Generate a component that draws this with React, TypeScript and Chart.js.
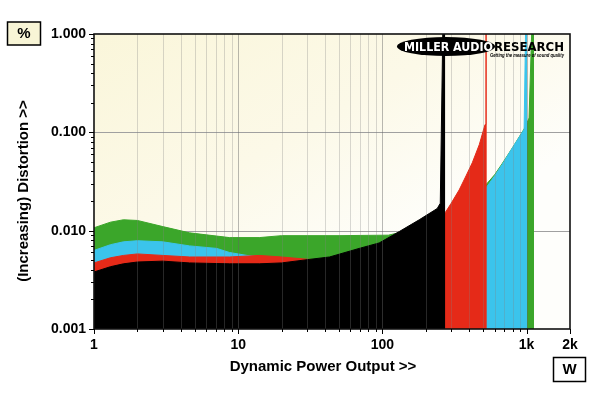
import React, { useEffect, useRef } from 'react';
import { Chart, registerables } from 'chart.js';
Chart.register(...registerables);

// ---- data (power in W, distortion in %) ----
const blackX = [1, 1.3, 1.6, 2, 3, 4.6, 8.7, 14, 20, 31, 43, 69, 95, 131, 180, 240, 252, 264, 273];
const blackY = [0.0038, 0.0043, 0.0046, 0.0048, 0.0049, 0.0047, 0.0046, 0.0046, 0.0047, 0.0051, 0.0054, 0.0066, 0.0075, 0.0098, 0.0129, 0.0168, 0.019, 2, 2];

const redX = [1, 1.3, 1.6, 2, 3, 4.6, 8.7, 14, 20, 31, 50, 100, 200, 273, 300, 341, 380, 420, 470, 515, 522, 530];
const redY = [0.0047, 0.0053, 0.0056, 0.0058, 0.0056, 0.0054, 0.0054, 0.0056, 0.0054, 0.0051, 0.005, 0.007, 0.012, 0.0153, 0.019, 0.026, 0.036, 0.049, 0.075, 0.12, 2, 2];

const blueX = [1, 1.3, 1.6, 2, 3, 4.6, 7.1, 8.7, 11.5, 20, 50, 100, 200, 273, 530, 600, 677, 800, 961, 990, 1008];
const blueY = [0.0063, 0.0072, 0.0077, 0.0079, 0.0077, 0.007, 0.0066, 0.006, 0.0056, 0.0052, 0.0048, 0.0065, 0.011, 0.013, 0.028, 0.036, 0.047, 0.07, 0.107, 2, 2];

const greenX = [1, 1.3, 1.6, 2, 3, 4.6, 8.7, 14, 20, 50, 110, 200, 273, 400, 530, 600, 677, 800, 961, 1008, 1040, 1100, 1127];
const greenY = [0.0107, 0.0122, 0.0129, 0.0127, 0.011, 0.0095, 0.0085, 0.0085, 0.0089, 0.0089, 0.009, 0.011, 0.012, 0.02, 0.03, 0.037, 0.048, 0.07, 0.108, 0.125, 0.14, 2, 2];

const xTickValues = [1, 2, 3, 4, 5, 6, 7, 8, 9, 10, 20, 30, 40, 50, 60, 70, 80, 90, 100, 200, 300, 400, 500, 600, 700, 800, 900, 1000, 2000];
const xMajorValues = [1, 10, 100, 1000, 2000];
const xMajorLabels = ['1', '10', '100', '1k', '2k'];
const xGridValues = [2, 3, 4, 5, 6, 7, 8, 9, 10, 20, 30, 40, 50, 60, 70, 80, 90, 100, 200, 300, 400, 500, 600, 700, 800, 900, 1000];
const xGridMajor = [10, 100, 1000];

const yTickValues = [0.001, 0.002, 0.003, 0.004, 0.005, 0.006, 0.007, 0.008, 0.009, 0.01, 0.02, 0.03, 0.04, 0.05, 0.06, 0.07, 0.08, 0.09, 0.1, 0.2, 0.3, 0.4, 0.5, 0.6, 0.7, 0.8, 0.9, 1];
const yMajorValues = [0.001, 0.01, 0.1, 1];
const yMajorLabels = ['0.001', '0.010', '0.100', '1.000'];
const yGridValues = [0.01, 0.1];

const xTitle = 'Dynamic Power Output >>';
const yTitle = '(Increasing) Distortion >>';
const yUnit = '%';
const xUnit = 'W';
const logoA = 'MILLER AUDIO';
const logoB = 'RESEARCH';
const logoC = 'Getting the measure of sound quality';

const COLORS = { black: '#000000', red: '#e52a18', blue: '#3bc4ec', green: '#3ba62a' };

const zip = (xs: number[], ys: number[]) => xs.map((x, i) => ({ x, y: ys[i] }));
const near = (a: number, b: number) => Math.abs(a - b) / b < 1e-6;
const FONT = 'Arial, "Liberation Sans", sans-serif';
const HEAVY = '"DejaVu Sans", Arial, sans-serif';

const decor = {
  id: 'decor',
  beforeDraw(chart: any) {
    const { ctx, chartArea: a } = chart;
    ctx.save();
    ctx.fillStyle = '#ffffff';
    ctx.fillRect(0, 0, chart.width, chart.height);
    const g = ctx.createLinearGradient(a.left, a.top, a.left + (a.right - a.left) * 0.35, a.bottom);
    g.addColorStop(0, '#faf6da');
    g.addColorStop(0.55, '#fcf9e8');
    g.addColorStop(1, '#fefefb');
    ctx.fillStyle = g;
    ctx.fillRect(a.left, a.top, a.right - a.left, a.bottom - a.top);
    const ys = chart.scales.y;
    ctx.strokeStyle = '#a0a0a0';
    ctx.lineWidth = 1;
    for (const v of yGridValues) {
      const py = Math.round(ys.getPixelForValue(v)) + 0.5;
      ctx.beginPath();
      ctx.moveTo(a.left, py);
      ctx.lineTo(a.right, py);
      ctx.stroke();
    }
    ctx.restore();
  },
  afterDatasetsDraw(chart: any) {
    const { ctx, chartArea: a } = chart;
    const xs = chart.scales.x;
    const ys = chart.scales.y;
    ctx.save();
    // vertical grid over the data
    for (const v of xGridValues) {
      const major = xGridMajor.some((m) => near(v, m));
      const px = Math.round(xs.getPixelForValue(v)) + 0.5;
      ctx.strokeStyle = major ? 'rgba(100,100,100,0.45)' : 'rgba(128,128,128,0.3)';
      ctx.lineWidth = 1;
      ctx.beginPath();
      ctx.moveTo(px, a.top);
      ctx.lineTo(px, a.bottom);
      ctx.stroke();
    }
    // border
    ctx.strokeStyle = '#111';
    ctx.lineWidth = 1.6;
    ctx.strokeRect(a.left, a.top, a.right - a.left, a.bottom - a.top);
    // tick marks
    ctx.strokeStyle = '#000';
    ctx.lineWidth = 1;
    for (const v of yTickValues) {
      const major = yMajorValues.some((m) => near(v, m));
      const py = Math.round(ys.getPixelForValue(v)) + 0.5;
      ctx.beginPath();
      ctx.moveTo(a.left - (major ? 5 : 3), py);
      ctx.lineTo(a.left, py);
      ctx.stroke();
    }
    for (const v of xTickValues) {
      const major = xMajorValues.some((m) => near(v, m));
      const px = Math.round(xs.getPixelForValue(v)) + 0.5;
      ctx.beginPath();
      ctx.moveTo(px, a.bottom);
      ctx.lineTo(px, a.bottom + (major ? 5 : 3));
      ctx.stroke();
    }
    // logo
    ctx.fillStyle = '#000';
    ctx.beginPath();
    ctx.ellipse(446, 46.5, 49, 9.6, 0, 0, Math.PI * 2);
    ctx.fill();
    ctx.textBaseline = 'alphabetic';
    ctx.textAlign = 'left';
    ctx.fillStyle = '#fff';
    ctx.font = `bold 12.5px ${HEAVY}`;
    ctx.fillText(logoA, 404, 51, 89);
    ctx.fillStyle = '#000';
    ctx.font = `bold 12.5px ${HEAVY}`;
    ctx.fillText(logoB, 494, 51, 70);
    ctx.font = `italic bold 6px ${FONT}`;
    ctx.fillText(logoC, 490, 56.5, 74);
    // unit boxes
    ctx.lineWidth = 1.5;
    ctx.fillStyle = '#f8f5d6';
    ctx.fillRect(7.5, 22, 33, 23);
    ctx.strokeStyle = '#000';
    ctx.strokeRect(7.5, 22, 33, 23);
    ctx.fillStyle = '#fff';
    ctx.fillRect(553.5, 357.5, 32, 24);
    ctx.strokeRect(553.5, 357.5, 32, 24);
    ctx.fillStyle = '#000';
    ctx.font = `bold 15px ${FONT}`;
    ctx.textAlign = 'center';
    ctx.textBaseline = 'middle';
    ctx.fillText(yUnit, 24, 34);
    ctx.fillText(xUnit, 569.5, 370);
    // axis titles
    ctx.fillText(xTitle, 323, 367);
    ctx.translate(24, 191);
    ctx.rotate(-Math.PI / 2);
    ctx.fillText(yTitle, 0, 0);
    ctx.restore();
  },
};

export default function App() {
  const ref = useRef<HTMLCanvasElement | null>(null);
  useEffect(() => {
    if (!ref.current) return;
    const mk = (label: string, xs: number[], ys: number[], color: string) => ({
      label,
      data: zip(xs, ys),
      borderColor: color,
      backgroundColor: color,
      borderWidth: 1,
      pointRadius: 0,
      tension: 0,
      fill: 'start',
    });
    const chart = new Chart(ref.current, {
      type: 'line',
      data: {
        datasets: [
          mk('black', blackX, blackY, COLORS.black),
          mk('red', redX, redY, COLORS.red),
          mk('blue', blueX, blueY, COLORS.blue),
          mk('green', greenX, greenY, COLORS.green),
        ] as any,
      },
      options: {
        responsive: false,
        animation: false,
        devicePixelRatio: 1,
        layout: { padding: { left: 0, right: 30, top: 34, bottom: 0 } },
        plugins: { legend: { display: false }, tooltip: { enabled: false } },
        scales: {
          x: {
            type: 'logarithmic',
            min: 1,
            max: 2000,
            grid: { display: false, drawTicks: false },
            border: { display: false },
            afterBuildTicks: (s: any) => {
              s.ticks = xTickValues.map((v) => ({ value: v }));
            },
            afterFit: (s: any) => {
              s.height = 64;
            },
            ticks: {
              autoSkip: false,
              maxRotation: 0,
              padding: 8,
              color: '#000',
              font: { family: FONT, size: 14, weight: 'bold' },
              callback: (v: any) => {
                const i = xMajorValues.findIndex((m) => near(Number(v), m));
                return i >= 0 ? xMajorLabels[i] : '';
              },
            },
          },
          y: {
            type: 'logarithmic',
            min: 0.001,
            max: 1,
            grid: { display: false, drawTicks: false },
            border: { display: false },
            afterBuildTicks: (s: any) => {
              s.ticks = yTickValues.map((v) => ({ value: v }));
            },
            afterFit: (s: any) => {
              s.width = 94;
            },
            ticks: {
              autoSkip: false,
              padding: 8,
              color: '#000',
              font: { family: FONT, size: 14, weight: 'bold' },
              callback: (v: any) => {
                const i = yMajorValues.findIndex((m) => near(Number(v), m));
                return i >= 0 ? yMajorLabels[i] : '';
              },
            },
          },
        },
      } as any,
      plugins: [decor],
    });
    return () => chart.destroy();
  }, []);
  return (
    <div style={{ position: 'fixed', left: 0, top: 0, width: 600, height: 393, background: '#fff' }}>
      <canvas ref={ref} width={600} height={393} style={{ display: 'block' }} />
    </div>
  );
}
